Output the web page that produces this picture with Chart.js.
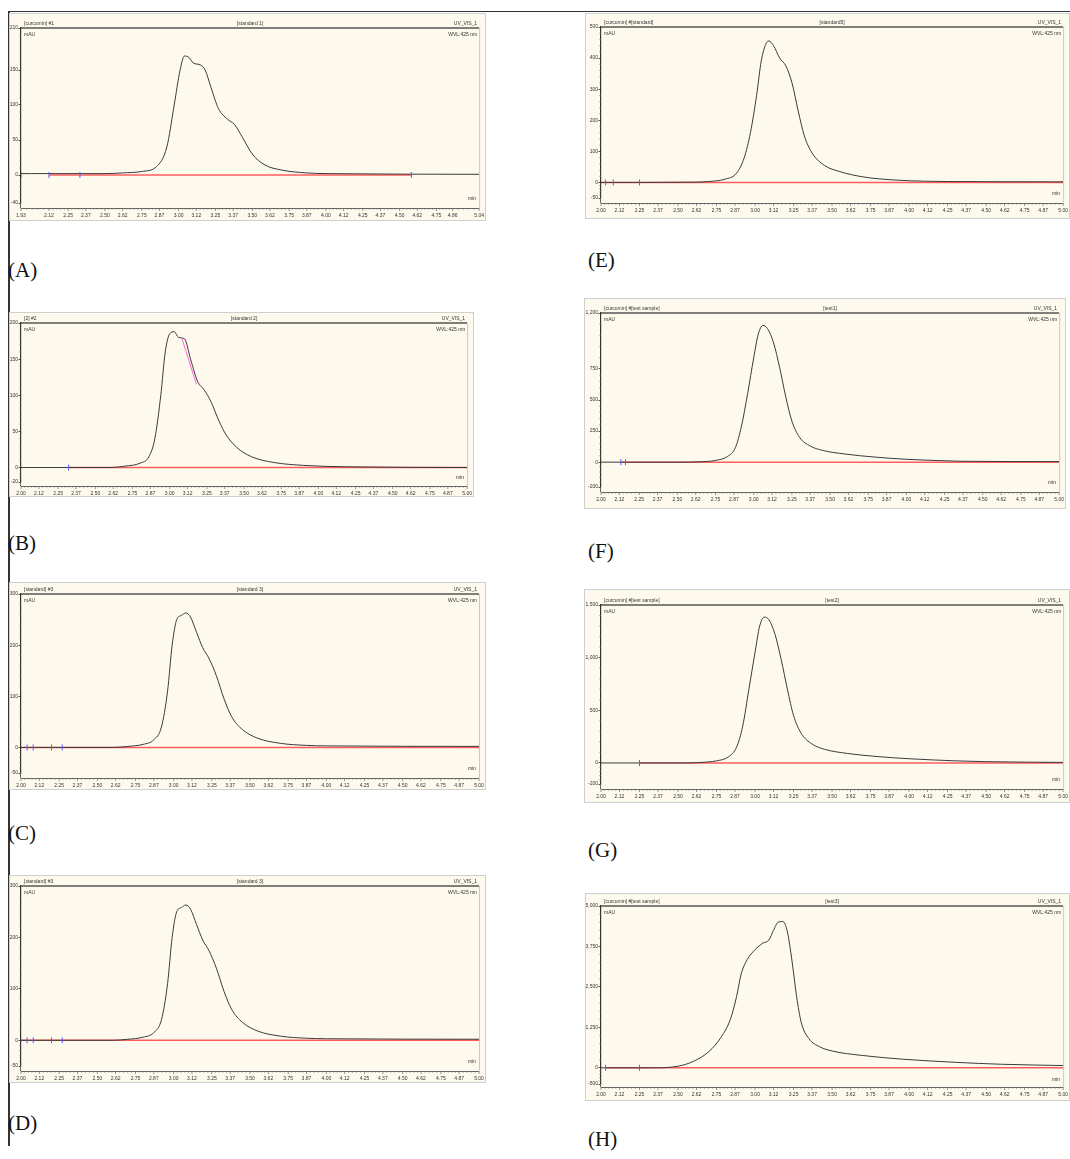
<!DOCTYPE html>
<html>
<head>
<meta charset="utf-8">
<script src="https://cdn.jsdelivr.net/npm/chart.js@4.4.0/dist/chart.umd.min.js"></script>
<style>
body { margin: 0; background: #fff; width: 1070px; height: 1159px; position: relative; overflow: hidden; }
.panel { position: absolute; background: #fdfaed; border: 1px solid #cfcfcf; box-sizing: border-box; }
.tag { position: absolute; font-family: "Liberation Serif", serif; font-size: 21px; color: #111; }
.frame { position: absolute; background: #333; }
</style>
</head>
<body>
<div class="frame" style="left:8px;top:11px;width:1062px;height:1px"></div>
<div class="frame" style="left:8px;top:11px;width:1.5px;height:1135px"></div>

<div class="panel" style="left:9px;top:13px;width:477px;height:208px"><canvas id="cA"></canvas></div>
<div class="panel" style="left:585px;top:13px;width:485px;height:206px"><canvas id="cE"></canvas></div>
<div class="panel" style="left:9px;top:312px;width:465px;height:185px"><canvas id="cB"></canvas></div>
<div class="panel" style="left:584px;top:298px;width:482px;height:211px"><canvas id="cF"></canvas></div>
<div class="panel" style="left:9px;top:582px;width:477px;height:208px"><canvas id="cC"></canvas></div>
<div class="panel" style="left:584px;top:589px;width:486px;height:214px"><canvas id="cG"></canvas></div>
<div class="panel" style="left:9px;top:875px;width:477px;height:208px"><canvas id="cD"></canvas></div>
<div class="panel" style="left:585px;top:893px;width:485px;height:208px"><canvas id="cH"></canvas></div>

<div class="tag" style="left:8px;top:258px">(A)</div>
<div class="tag" style="left:588px;top:248px">(E)</div>
<div class="tag" style="left:8px;top:531px">(B)</div>
<div class="tag" style="left:588px;top:539px">(F)</div>
<div class="tag" style="left:8px;top:821px">(C)</div>
<div class="tag" style="left:588px;top:838px">(G)</div>
<div class="tag" style="left:8px;top:1111px">(D)</div>
<div class="tag" style="left:588px;top:1127px">(H)</div>

<script>
// retention time axis labels (min)
const xLabelsA = ['1.93', '2.12', '2.25', '2.37', '2.50', '2.62', '2.75', '2.87', '3.00', '3.12', '3.25', '3.37', '3.50', '3.62', '3.75', '3.87', '4.00', '4.12', '4.25', '4.37', '4.50', '4.62', '4.75', '4.86', '5.04'];
const xLabels = ['2.00', '2.12', '2.25', '2.37', '2.50', '2.62', '2.75', '2.87', '3.00', '3.12', '3.25', '3.37', '3.50', '3.62', '3.75', '3.87', '4.00', '4.12', '4.25', '4.37', '4.50', '4.62', '4.75', '4.87', '5.00'];

// (A) standard 1
const timesA = [1.93, 2.00, 2.50, 2.62, 2.75, 2.85, 2.92, 2.97, 3.01, 3.04, 3.07, 3.10, 3.15, 3.18, 3.22, 3.27, 3.33, 3.38, 3.43, 3.50, 3.58, 3.70, 3.87, 4.00, 5.04];
const signalA = [2, 2, 2, 3, 5, 12, 40, 100, 150, 170, 168, 160, 157, 150, 125, 95, 80, 72, 55, 30, 15, 7, 3, 2, 1];
const yTicksA = [-40, 0, 50, 100, 150, 210];
const markersA = [1.93, 2.12, 2.33, 4.58];

// (B) standard 2
const timesB = [2.00, 2.60, 2.70, 2.80, 2.86, 2.90, 2.94, 2.97, 3.00, 3.03, 3.06, 3.10, 3.14, 3.19, 3.23, 3.28, 3.33, 3.38, 3.45, 3.55, 3.70, 3.90, 4.20, 5.00];
const signalB = [0, 0, 2, 6, 15, 40, 100, 160, 185, 188, 180, 178, 150, 118, 108, 90, 65, 45, 28, 15, 7, 3, 1, 0];
const yTicksB = [-20, 0, 50, 100, 150, 200];
const markersB = [2.32];
const tangentTimesB = [3.08, 3.18];
const tangentSignalB = [180, 115];

// (C) standard 3 and (D) standard 3 (repeat)
const timesC = [2.00, 2.60, 2.70, 2.80, 2.87, 2.92, 2.96, 2.99, 3.02, 3.05, 3.08, 3.11, 3.15, 3.19, 3.23, 3.28, 3.33, 3.38, 3.45, 3.55, 3.70, 3.87, 4.00, 5.00];
const signalC = [0, 0, 2, 6, 15, 40, 110, 200, 250, 258, 263, 255, 225, 195, 175, 140, 95, 60, 35, 18, 8, 4, 3, 2];
const yTicksC = [-50, 0, 100, 200, 300];
const markersC = [2.04, 2.08, 2.20, 2.27];

// (E) standard 5
const timesE = [2.00, 2.60, 2.70, 2.80, 2.88, 2.93, 2.97, 3.01, 3.04, 3.07, 3.09, 3.12, 3.16, 3.20, 3.24, 3.28, 3.32, 3.37, 3.45, 3.55, 3.70, 3.90, 4.10, 4.25, 5.00];
const signalE = [0, 1, 3, 10, 30, 80, 160, 280, 390, 445, 455, 440, 400, 375, 320, 230, 150, 95, 55, 35, 18, 8, 4, 3, 2];
const yTicksE = [-50, 0, 100, 200, 300, 400, 500];
const markersE = [2.03, 2.08, 2.25];

// (F) test 1
const timesF = [2.00, 2.50, 2.65, 2.75, 2.83, 2.88, 2.92, 2.96, 3.00, 3.03, 3.06, 3.09, 3.13, 3.17, 3.21, 3.25, 3.30, 3.37, 3.45, 3.60, 3.80, 4.00, 4.30, 4.37, 5.00];
const signalF = [0, 0, 3, 14, 47, 117, 290, 550, 840, 1030, 1100, 1075, 960, 760, 525, 330, 200, 130, 95, 65, 40, 23, 9, 7, 4];
const yTicksF = [-200, 0, 250, 500, 750, 1200];
const markersF = [2.13, 2.16];

// (G) test 2
const timesG = [2.00, 2.55, 2.65, 2.75, 2.83, 2.88, 2.92, 2.96, 3.00, 3.03, 3.06, 3.09, 3.13, 3.17, 3.21, 3.25, 3.30, 3.37, 3.45, 3.60, 3.80, 4.00, 4.30, 4.50, 5.00];
const signalG = [0, 0, 5, 20, 60, 150, 350, 700, 1050, 1300, 1385, 1360, 1220, 980, 700, 450, 280, 180, 130, 90, 60, 40, 20, 12, 5];
const yTicksG = [-200, 0, 500, 1000, 1500];
const markersG = [2.25];

// (H) test 3
const timesH = [2.00, 2.35, 2.50, 2.60, 2.70, 2.78, 2.84, 2.88, 2.91, 2.95, 3.00, 3.05, 3.09, 3.12, 3.15, 3.18, 3.21, 3.24, 3.27, 3.30, 3.35, 3.42, 3.50, 3.70, 3.95, 4.30, 4.60, 5.00];
const signalH = [0, 0, 50, 200, 500, 950, 1500, 2200, 2900, 3350, 3650, 3850, 3950, 4250, 4500, 4520, 4200, 3300, 2200, 1400, 900, 650, 520, 380, 270, 170, 110, 70];
const yTicksH = [-500, 0, 1250, 2500, 3750, 5000];
const markersH = [2.03, 2.25];

const tickFont = { family: '"Liberation Sans", Arial, sans-serif', size: 5 };

const panelDecor = {
    id: 'panelDecor',
    afterDraw(chart, args, opts) {
        const { ctx, chartArea: { top, bottom, left, right } } = chart
        const axisY = bottom + opts.gap
        ctx.save()
        // header rule
        ctx.strokeStyle = '#555'
        ctx.lineWidth = 1.5
        ctx.beginPath()
        ctx.moveTo(left, top)
        ctx.lineTo(right, top)
        ctx.stroke()
        // right frame
        ctx.strokeStyle = '#c8c8c8'
        ctx.lineWidth = 1
        ctx.beginPath()
        ctx.moveTo(right + 0.5, top)
        ctx.lineTo(right + 0.5, axisY)
        ctx.stroke()

        ctx.fillStyle = '#333'
        ctx.font = '5px "Liberation Sans", Arial, sans-serif'
        ctx.textBaseline = 'bottom'
        ctx.textAlign = 'left'
        ctx.fillText(opts.left, left + 3, top - 2)
        ctx.textAlign = 'center'
        ctx.fillText(opts.center, (left + right) / 2, top - 2)
        ctx.textAlign = 'right'
        ctx.fillText('UV_VIS_1', right - 2, top - 2)
        ctx.textBaseline = 'top'
        ctx.textAlign = 'left'
        ctx.fillText('mAU', left + 3, top + 4)
        ctx.textAlign = 'right'
        ctx.fillText('WVL:425 nm', right - 2, top + 4)
        ctx.textBaseline = 'bottom'
        ctx.fillText('min', right - 3, bottom - 2)

        // x axis, set a little below the plot like the original software
        const xs = chart.scales.x, ys = chart.scales.y
        ctx.strokeStyle = '#666'
        ctx.lineWidth = 1
        ctx.beginPath()
        ctx.moveTo(left, axisY + 0.5)
        ctx.lineTo(right, axisY + 0.5)
        ctx.moveTo(left - 0.5, bottom)
        ctx.lineTo(left - 0.5, axisY)
        ctx.stroke()

        ctx.lineWidth = 0.7
        ctx.beginPath()
        const xt = xs.ticks.map(t => xs.getPixelForValue(t.value))
        xt.forEach(px => {
            ctx.moveTo(px, axisY)
            ctx.lineTo(px, axisY + 3)
        })
        for (let i = 0; i < xt.length - 1; i++) {
            for (let k = 1; k < 5; k++) {
                const px = xt[i] + (xt[i + 1] - xt[i]) * k / 5
                ctx.moveTo(px, axisY)
                ctx.lineTo(px, axisY + 1.6)
            }
        }
        const yt = ys.ticks.map(t => ys.getPixelForValue(t.value))
        for (let i = 0; i < yt.length - 1; i++) {
            for (let k = 1; k < 5; k++) {
                const py = yt[i] + (yt[i + 1] - yt[i]) * k / 5
                ctx.moveTo(left, py)
                ctx.lineTo(left - 1.6, py)
            }
        }
        ctx.stroke()
        ctx.restore()
    }
}

function pts(ts, vs) {
    return ts.map((t, i) => ({ x: t, y: vs[i] }))
}

function makePanel(id, p) {
    const datasets = [
        {
            // chromatogram trace
            data: pts(p.times, p.signal),
            borderColor: '#3a3a3a',
            borderWidth: 1,
            pointRadius: 0,
            cubicInterpolationMode: 'monotone',
            order: 1,
        },
        {
            // integration baseline
            data: pts([p.base[0], p.base[1]], [0, 0]),
            borderColor: '#ff5c5c',
            borderWidth: 1.5,
            pointRadius: 0,
            order: 2,
        },
        {
            // integration event markers
            type: 'scatter',
            data: pts(p.markers, p.markers.map(() => 0)),
            pointStyle: 'line',
            rotation: 90,
            radius: 3,
            borderColor: '#5a5aff',
            borderWidth: 1,
            order: 0,
        },
    ]
    if (p.tangent) {
        datasets.push({
            data: pts(p.tangent[0], p.tangent[1]),
            borderColor: '#ff66dd',
            borderWidth: 1,
            pointRadius: 0,
            order: 0,
        })
    }
    new Chart(document.getElementById(id), {
        type: 'line',
        data: { datasets },
        options: {
            responsive: true,
            maintainAspectRatio: false,
            animation: false,
            layout: { padding: { top: p.pad[0], right: p.pad[1], left: 0, bottom: 0 } },
            plugins: {
                legend: { display: false },
                tooltip: { enabled: false },
                panelDecor: { left: p.hLeft, center: p.hCenter, gap: p.gap },
            },
            scales: {
                x: {
                    type: 'linear',
                    min: parseFloat(p.xLabels[0]),
                    max: parseFloat(p.xLabels[p.xLabels.length - 1]),
                    afterBuildTicks: s => { s.ticks = p.xLabels.map(l => ({ value: parseFloat(l) })) },
                    afterFit: s => { s.height = p.pad[2] },
                    ticks: {
                        autoSkip: false, maxRotation: 0, padding: 1,
                        font: tickFont, color: '#333',
                        callback: (v, i) => p.xLabels[i],
                    },
                    grid: { drawOnChartArea: false, tickLength: p.gap + 4, color: 'rgba(0,0,0,0)' },
                    border: { display: false },
                },
                y: {
                    min: p.yTicks[0],
                    max: p.yTicks[p.yTicks.length - 1],
                    afterBuildTicks: s => { s.ticks = p.yTicks.map(v => ({ value: v })) },
                    afterFit: s => { s.width = p.pad[3] },
                    ticks: {
                        autoSkip: false, padding: 0.5,
                        font: tickFont, color: '#333',
                        callback: v => v.toLocaleString('en-US'),
                    },
                    grid: { drawOnChartArea: false, tickLength: 2.5, color: '#555' },
                    border: { color: '#333', width: 1.2 },
                },
            },
        },
        plugins: [panelDecor],
    })
}

// pad: [top, right, x-axis height, y-axis width]
makePanel('cA', { times: timesA, signal: signalA, yTicks: yTicksA, markers: markersA, xLabels: xLabelsA, base: [2.12, 4.58], pad: [14, 5, 17, 11], gap: 5, hLeft: '[curcumin] #1', hCenter: '[standard 1]' })
makePanel('cB', { times: timesB, signal: signalB, yTicks: yTicksB, markers: markersB, xLabels: xLabels, base: [2.32, 5.00], tangent: [tangentTimesB, tangentSignalB], pad: [10, 5, 14, 11], gap: 4, hLeft: '[2] #2', hCenter: '[standard 2]' })
makePanel('cC', { times: timesC, signal: signalC, yTicks: yTicksC, markers: markersC, xLabels: xLabels, base: [2.00, 5.00], pad: [11, 6, 16, 11], gap: 5, hLeft: '[standard] #3', hCenter: '[standard 3]' })
makePanel('cD', { times: timesC, signal: signalC, yTicks: yTicksC, markers: markersC, xLabels: xLabels, base: [2.00, 5.00], pad: [10, 6, 16, 11], gap: 5, hLeft: '[standard] #3', hCenter: '[standard 3]' })
makePanel('cE', { times: timesE, signal: signalE, yTicks: yTicksE, markers: markersE, xLabels: xLabels, base: [2.00, 5.00], pad: [13, 1, 20, 15], gap: 5, hLeft: '[curcumin] #[standard]', hCenter: '[standard5]' })
makePanel('cF', { times: timesF, signal: signalF, yTicks: yTicksF, markers: markersF, xLabels: xLabels, base: [2.13, 5.00], pad: [14, 3, 21, 16], gap: 5, hLeft: '[curcumin] #[test sample]', hCenter: '[test1]' })
makePanel('cG', { times: timesG, signal: signalG, yTicks: yTicksG, markers: markersG, xLabels: xLabels, base: [2.25, 5.00], pad: [15, 3, 18, 16], gap: 5, hLeft: '[curcumin] #[test sample]', hCenter: '[test2]' })
makePanel('cH', { times: timesH, signal: signalH, yTicks: yTicksH, markers: markersH, xLabels: xLabels, base: [2.03, 5.00], pad: [12, 0, 16, 15], gap: 3, hLeft: '[curcumin] #[test sample]', hCenter: '[test3]' })
</script>
</body>
</html>
